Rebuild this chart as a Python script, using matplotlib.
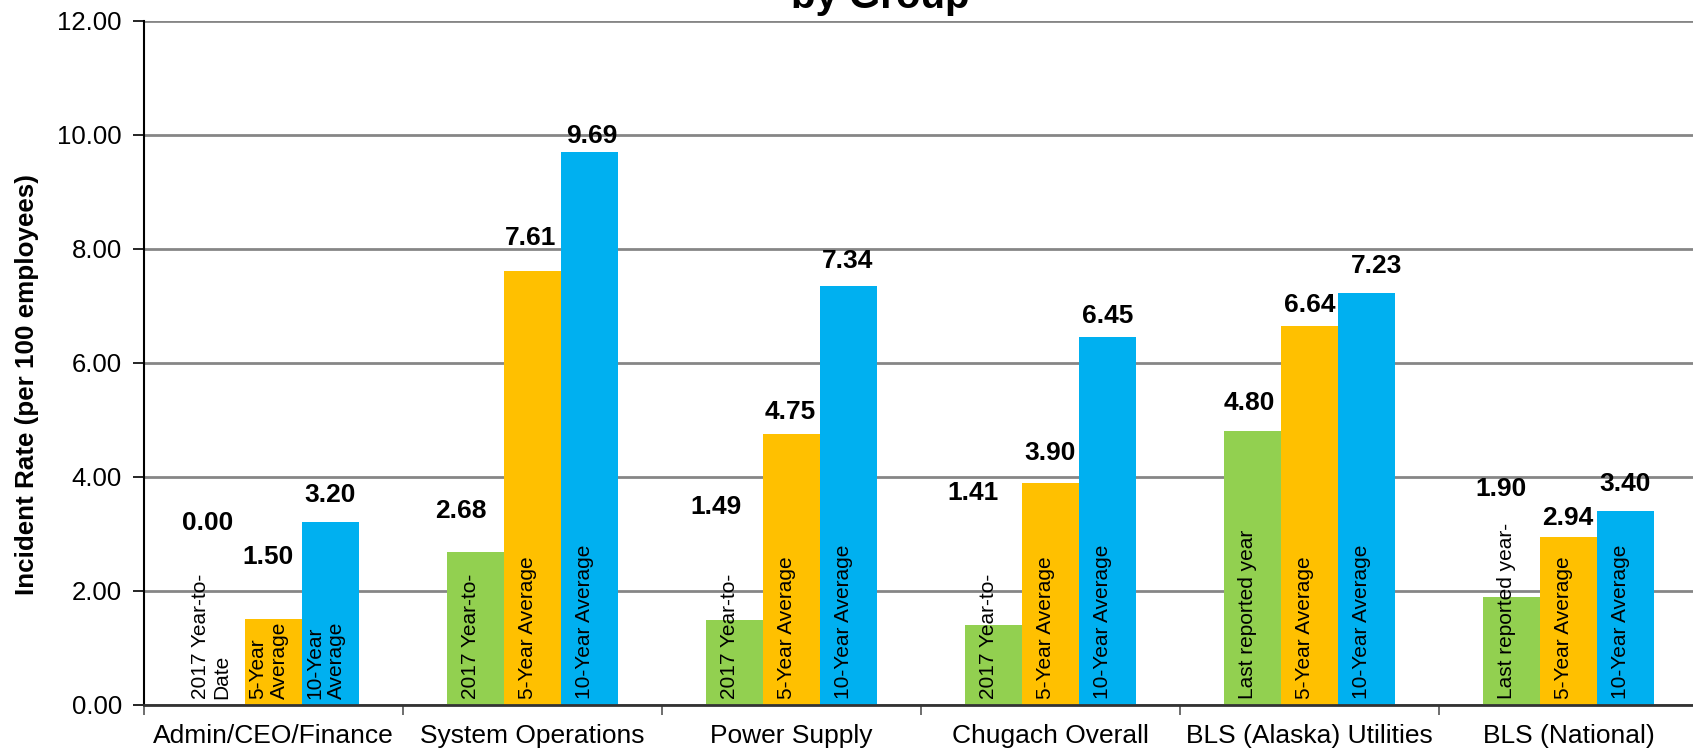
import matplotlib
matplotlib.use("Agg")
import matplotlib.pyplot as plt
import numpy as np

plt.rcParams["font.family"] = ["Liberation Sans", "DejaVu Sans"]

# --- data ---------------------------------------------------------------
groups = ["Admin/CEO/Finance", "System Operations", "Power Supply",
          "Chugach Overall", "BLS (Alaska) Utilities", "BLS (National)"]
current = [0.00, 2.68, 1.49, 1.41, 4.80, 1.90]
avg5 = [1.50, 7.61, 4.75, 3.90, 6.64, 2.94]
avg10 = [3.20, 9.69, 7.34, 6.45, 7.23, 3.40]

current_names = ["2017 Year-to-\nDate", "2017 Year-to-", "2017 Year-to-",
                 "2017 Year-to-", "Last reported year", "Last reported year-"]
avg5_names = ["5-Year\nAverage"] + ["5-Year Average"] * 5
avg10_names = ["10-Year\nAverage"] + ["10-Year Average"] * 5

yticks = [0, 2, 4, 6, 8, 10, 12]

# label placement (pixels, relative to bar top centre) -- hand placed in the source
label_dx = [[-9, -6, 0], [-15, -2, 2], [-19, -1, -1],
            [-21, 0, 0], [-3, 0, 10], [-11, -1, 0]]
label_dy = [[182, 62, 27], [41, 33, 16], [113, 22, 25],
            [132, 30, 21], [28, 21, 27], [108, 19, 27]]

COLORS = ["#92D050", "#FFC000", "#00B0F0"]
DPI = 100
PT = 72 / DPI

fig = plt.figure(figsize=(16.93, 7.54), dpi=DPI)
ax = fig.add_axes([144 / 1693, 1 - 705 / 754, (1698 - 144) / 1693, (705 - 20.5) / 754])

x = np.arange(len(groups))
w = 0.22
series = [current, avg5, avg10]
names = [current_names, avg5_names, avg10_names]

for k, (vals, nms) in enumerate(zip(series, names)):
    pos = x + (k - 1) * w
    ax.bar(pos, vals, width=w, color=COLORS[k], zorder=3)
    for i, (p, v, nm) in enumerate(zip(pos, vals, nms)):
        ax.annotate(nm, (p, 0), xytext=(-5 * PT, 6 * PT), textcoords="offset points",
                    rotation=90, ha="center", va="bottom", multialignment="left",
                    fontsize=15, linespacing=1.15, zorder=4)
        ax.annotate(f"{v:.2f}", (p, v),
                    xytext=(label_dx[i][k] * PT, label_dy[i][k] * PT),
                    textcoords="offset points", ha="center", va="center",
                    fontsize=19, fontweight="bold", zorder=4)

ax.set_xlim(-0.5, len(groups) - 0.5)
ax.set_ylim(0, 12)
ax.set_yticks(yticks)
ax.set_yticklabels([f"{t:.2f}" for t in yticks], fontsize=18.5)
ax.set_xticks(x)
ax.set_xticklabels(groups, fontsize=19)
ax.set_xticks(np.arange(len(groups) + 1) - 0.5, minor=True)
ax.tick_params(axis="x", which="major", length=0, pad=14)
ax.tick_params(axis="x", which="minor", length=7, width=1.2, color="#555555")
ax.tick_params(axis="y", length=8, width=1.2, pad=8)

ax.yaxis.grid(True, color="#868686", linewidth=2, zorder=0)
ax.set_axisbelow(True)
for s in ["top", "right"]:
    ax.spines[s].set_visible(False)
ax.spines["left"].set_linewidth(1.5)
ax.spines["bottom"].set_linewidth(2)
ax.spines["bottom"].set_color("#333333")
ax.spines["bottom"].set_zorder(5)

ax.set_ylabel("Incident Rate (per 100 employees)", fontsize=18.7, fontweight="bold")
ax.yaxis.set_label_coords((39 - 144) / 1554, (705 - 385) / 684.5)

fig.text(880 / 1693, 1 - 8 / 754, "by Group", ha="center", va="baseline",
         fontsize=29, fontweight="bold")

fig.savefig("out.png", dpi=DPI)
